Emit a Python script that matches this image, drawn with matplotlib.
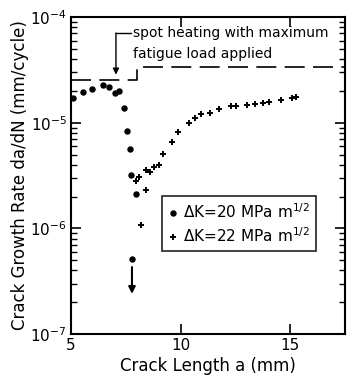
import matplotlib
matplotlib.use("Agg")
import matplotlib.pyplot as plt
from matplotlib.ticker import LogLocator, NullFormatter

# Data
dots_x = [5.1, 5.55, 5.97, 6.45, 6.73, 7.0, 7.2, 7.4, 7.55, 7.7, 7.72, 7.97, 7.78]
dots_y = [1.7e-5, 1.95e-5, 2.1e-5, 2.3e-5, 2.2e-5, 1.93e-5, 2.0e-5, 1.37e-5,
          8.4e-6, 5.6e-6, 3.2e-6, 2.1e-6, 5.1e-7]

plus_x = [8.17, 8.42, 7.97, 8.12, 8.42, 8.62, 8.8, 9.02, 9.2, 9.6, 9.9, 10.37,
          10.64, 10.93, 11.32, 11.77, 12.28, 12.52, 13.03, 13.38, 13.75, 14.05,
          14.58, 15.1, 15.28]
plus_y = [1.08e-6, 2.3e-6, 2.8e-6, 3.05e-6, 3.55e-6, 3.4e-6, 3.8e-6, 4.0e-6,
          5.1e-6, 6.6e-6, 8.1e-6, 1.0e-5, 1.12e-5, 1.2e-5, 1.25e-5, 1.34e-5,
          1.44e-5, 1.44e-5, 1.46e-5, 1.5e-5, 1.55e-5, 1.58e-5, 1.65e-5, 1.7e-5,
          1.76e-5]

limit_x = [5.0, 8.02, 8.02, 17.5]
limit_y = [2.55e-5, 2.55e-5, 3.4e-5, 3.4e-5]

x_ticks = [5, 10, 15]
x_ticklabels = ["5", "10", "15"]
y_ticks = [1e-7, 1e-6, 1e-5, 1e-4]
y_ticklabels = [r"$10^{-7}$", r"$10^{-6}$", r"$10^{-5}$", r"$10^{-4}$"]

label_20 = r"$\Delta$K=20 MPa m$^{1/2}$"
label_22 = r"$\Delta$K=22 MPa m$^{1/2}$"
note_line1 = "spot heating with maximum"
note_line2 = "fatigue load applied"

fig = plt.figure(figsize=(3.47, 3.80), dpi=100)
ax = fig.add_axes([0.2046, 0.121, 0.790, 0.834])
ax.set_yscale("log")
ax.set_xlim(5, 17.5)
ax.set_ylim(1e-7, 1e-4)

ax.plot(limit_x, limit_y, color="black", lw=1.2, dashes=(12, 5))

ax.plot(dots_x, dots_y, linestyle="none", marker="o", ms=3.6, color="black",
        label=label_20)
ax.plot(plus_x, plus_y, linestyle="none", marker="+", ms=5, mew=1.4,
        color="black", label=label_22)

# arrow below the lowest dot
ax.annotate("", xy=(dots_x[-1], 2.4e-7), xytext=(dots_x[-1], 4.3e-7),
            arrowprops=dict(arrowstyle="-|>", color="black", lw=1.5,
                            mutation_scale=10, shrinkA=0, shrinkB=0))

# annotation leader
ax.annotate("", xy=(7.05, 2.85e-5), xytext=(7.05, 7.06e-5),
            arrowprops=dict(arrowstyle="-|>", color="black", lw=1.0,
                            mutation_scale=9, shrinkA=0, shrinkB=0))
ax.plot([7.05, 7.72], [7.06e-5, 7.06e-5], color="black", lw=1.0)
ax.text(7.83, 7.06e-5, note_line1, fontsize=10, va="center", ha="left")
ax.text(7.83, 4.5e-5, note_line2, fontsize=10, va="center", ha="left")

leg = ax.legend(loc="upper left", bbox_to_anchor=(0.332, 0.435), fontsize=11,
                frameon=True, fancybox=False, edgecolor="black",
                handlelength=0.6, handletextpad=0.4, borderpad=0.4,
                labelspacing=0.35, borderaxespad=0)
leg.get_frame().set_linewidth(1.3)

ax.set_xticks(x_ticks)
ax.set_xticklabels(x_ticklabels, fontsize=11)
ax.set_yticks(y_ticks)
ax.set_yticklabels(y_ticklabels, fontsize=11)
ax.yaxis.set_minor_locator(LogLocator(base=10, subs=range(2, 10)))
ax.yaxis.set_minor_formatter(NullFormatter())

ax.tick_params(which="both", direction="in", top=True, right=True, color="black")
ax.tick_params(which="major", length=7, width=1.2)
ax.tick_params(which="minor", length=4, width=1.0)
ax.tick_params(axis="x", pad=3)
ax.tick_params(axis="y", pad=3)

for s in ax.spines.values():
    s.set_linewidth(1.5)

ax.set_xlabel("Crack Length a (mm)", fontsize=12, labelpad=3)
ax.set_ylabel("Crack Growth Rate da/dN (mm/cycle)", fontsize=12, labelpad=1)

fig.savefig("out.png", dpi=100)
